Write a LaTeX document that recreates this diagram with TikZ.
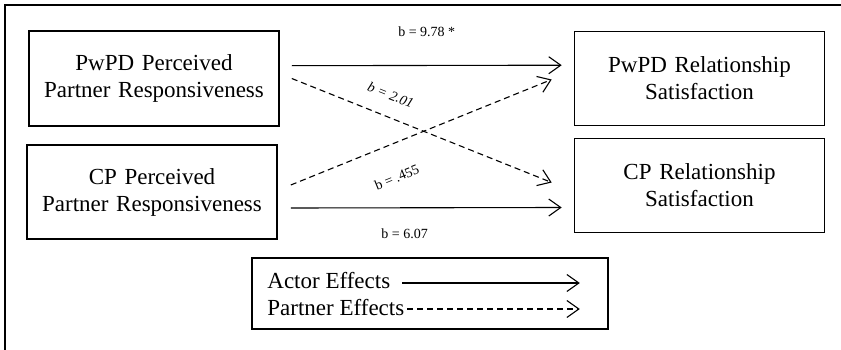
\documentclass[tikz,border=0pt]{standalone}
\usepackage{fontspec}
\setmainfont{Liberation Serif}
\usetikzlibrary{arrows.meta,positioning}

\begin{document}
\begin{tikzpicture}[node distance=1.5cm, x=1pt, y=1pt]
    % Define styles
    \tikzstyle{box} = [rectangle, draw, line width=1.6pt, text width=240pt, text centered, minimum width=250pt, minimum height=95pt, font=\fontsize{23}{27}\selectfont]
    \tikzstyle{legendbox} = [rectangle, draw, line width=1.6pt, minimum width=356pt, minimum height=71pt]
    \tikzstyle{legendtext} = [inner sep=0pt, font=\fontsize{23}{27}\selectfont]
    \tikzstyle{coef} = [inner sep=0pt, font=\fontsize{14}{16}\selectfont]
    \tikzstyle{line} = [draw, line width=1.1pt, -{Straight Barb[length=12pt, width=17pt]}]
    \tikzstyle{partner} = [line, dash pattern=on 6pt off 4pt]

    % Page and outer frame
    \useasboundingbox (0,0) rectangle (841,349);
    \clip (0,0) rectangle (841,349);
    \draw [line width=2pt] (5,-10) -- (5,344) -- (850,344);

    % Place nodes - predictors
    \node [box] (pwpdper) at (154,270.5) {PwPD Perceived\\Partner Responsiveness};
    \node [box, below of=pwpdper, node distance=113.5pt, xshift=-2pt, minimum height=94pt] (cpper) {CP Perceived\\Partner Responsiveness};

    % Place nodes - outcomes
    \node [box, right of=pwpdper, node distance=545.5pt, minimum height=94pt] (pwpdsat) {PwPD Relationship\\Satisfaction};
    \node [box, below of=pwpdsat, node distance=107pt, minimum height=94pt] (cpsat) {CP Relationship\\Satisfaction};

    % Place nodes - legend
    \node [legendbox, below of=cpper, node distance=101.5pt, xshift=278pt] (legend) {};
    \node [legendtext, anchor=base west] (actor) at ([shift={(16pt,5.5pt)}]legend.west) {Actor Effects};
    \node [legendtext, anchor=base west] (partnerfx) at ([shift={(16pt,-21.5pt)}]legend.west) {Partner Effects};
    \coordinate (actorend) at ([shift={(-29pt,10.5pt)}]legend.east);
    \coordinate (partnerend) at ([shift={(-29pt,-15.5pt)}]legend.east);

    % Draw actor effects
    \path [line] ([shift={(12pt,12.8pt)}]pwpdper.east) -- node [coef, above=28pt] (b978) {b = 9.78 *} ([shift={(-12pt,13.3pt)}]pwpdsat.west);
    \path [line] ([shift={(13pt,-16pt)}]cpper.east) -- node [coef, below=20pt, pos=0.42] (b607) {b = 6.07} ([shift={(-12pt,-22pt)}]cpsat.west);

    % Draw partner effects
    \path [partner] ([xshift=12pt]pwpdper.east) -- node [coef, sloped, above=16pt, pos=0.35, font=\fontsize{14}{16}\selectfont\itshape] (b201) {b = 2.01} ([shift={(-22pt,3pt)}]cpsat.west);
    \path [partner] ([shift={(13pt,7pt)}]cpper.east) -- node [coef, sloped, below=27pt, pos=0.36] (b455) {b = .455} ([shift={(-22pt,-1pt)}]pwpdsat.west);

    % Legend arrows
    \path [line] ([shift={(12pt,5pt)}]actor.base east) -- (actorend);
    \path [partner] ([shift={(3pt,6pt)}]partnerfx.base east) -- (partnerend);

\end{tikzpicture}
\end{document}
